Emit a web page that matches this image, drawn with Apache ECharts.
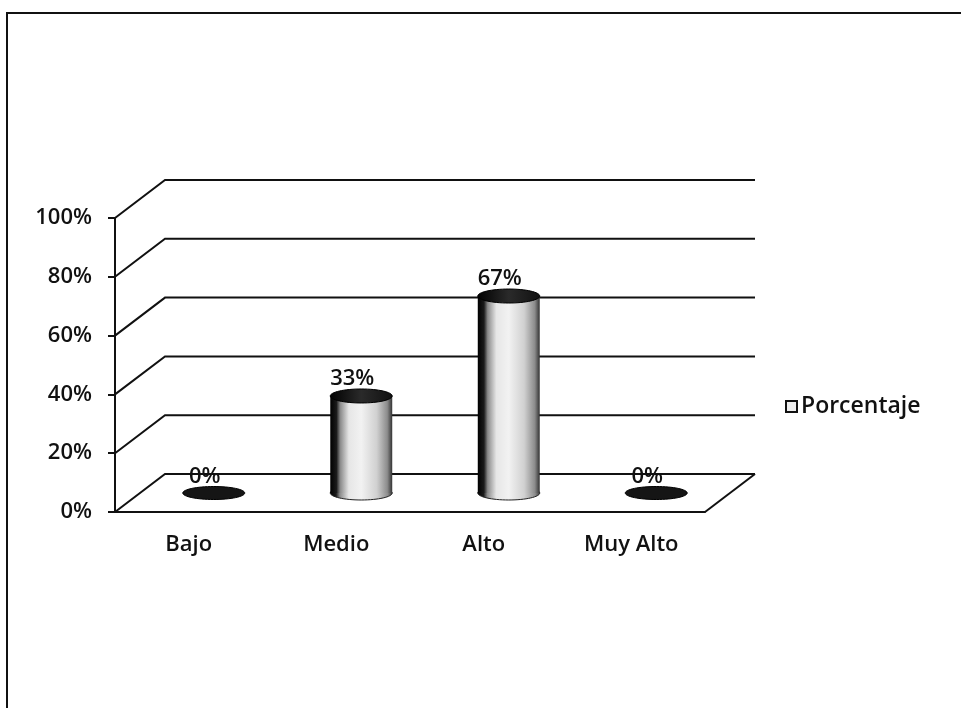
<!DOCTYPE html>
<html lang="es">
<head>
    <meta charset="UTF-8">
    <title>Porcentaje</title>
    <script src="https://cdn.jsdelivr.net/npm/echarts@6.0.0/dist/echarts.min.js"></script>
    <style>
        html, body { margin: 0; padding: 0; background: #fff; }
        #chart { width: 961px; height: 708px; }
    </style>
</head>
<body>
    <div id="chart"></div>
<script>
    var categories = ['Bajo', 'Medio', 'Alto', 'Muy Alto'];
    var porcentaje = [0, 33, 67, 0];
    var yTicks = [0, 20, 40, 60, 80, 100];

    // profundidad del efecto 3D (pared del fondo)
    var DX = 50, DY = 38;
    var FONT = '"Open Sans"';

    var myChart = echarts.init(document.getElementById('chart'));

    // pared del fondo: diagonal + linea horizontal por cada marca
    function renderWall(params, api) {
        var cs = params.coordSys;
        var y = api.coord([0, api.value(1)])[1];
        var children = [{
            type: 'polyline',
            shape: { points: [[cs.x, y], [cs.x + DX, y - DY], [cs.x + cs.width + DX, y - DY]] },
            style: { stroke: '#111', lineWidth: 2, fill: null }
        }];
        if (api.value(1) === 0) {
            // borde derecho del piso
            children.push({
                type: 'line',
                shape: { x1: cs.x + cs.width, y1: y, x2: cs.x + cs.width + DX, y2: y - DY },
                style: { stroke: '#111', lineWidth: 2 }
            });
        }
        return { type: 'group', children: children };
    }

    // cilindros a media profundidad
    function renderCyl(params, api) {
        var v = api.value(1);
        var top = api.coord([api.value(0), v]);
        var base = api.coord([api.value(0), 0]);
        var cx = top[0] + DX / 2;
        var ty = top[1] - DY / 2;
        var by = base[1] - DY / 2;
        var rx = api.size([1, 0])[0] * 0.21;
        var ry = v === 0 ? 6.5 : 7;
        var label = {
            type: 'text',
            style: {
                text: v + '%', x: cx - 9, y: ty - ry + 1,
                align: 'center', verticalAlign: 'bottom',
                font: '600 22px ' + FONT, fill: '#111'
            },
            z2: 10
        };
        if (v === 0) {
            return {
                type: 'group', children: [{
                    type: 'ellipse',
                    shape: { cx: cx, cy: by, rx: rx, ry: ry },
                    style: { fill: '#151515', stroke: '#000', lineWidth: 1 }
                }, label]
            };
        }
        var body = new echarts.graphic.LinearGradient(0, 0, 1, 0, [
            { offset: 0, color: '#000' },
            { offset: 0.1, color: '#1a1a1a' },
            { offset: 0.16, color: '#8a8a8a' },
            { offset: 0.3, color: '#e6e6e6' },
            { offset: 0.5, color: '#f2f2f2' },
            { offset: 0.75, color: '#d0d0d0' },
            { offset: 0.92, color: '#8c8c8c' },
            { offset: 1, color: '#333' }
        ]);
        var cap = new echarts.graphic.LinearGradient(0, 0, 1, 0, [
            { offset: 0, color: '#000' },
            { offset: 0.5, color: '#2a2a2a' },
            { offset: 1, color: '#111' }
        ]);
        return {
            type: 'group',
            children: [{
                type: 'ellipse',
                shape: { cx: cx, cy: by, rx: rx, ry: ry },
                style: { fill: body, stroke: '#222', lineWidth: 1 }
            }, {
                type: 'rect',
                shape: { x: cx - rx, y: ty, width: rx * 2, height: by - ty },
                style: { fill: body }
            }, {
                type: 'ellipse',
                shape: { cx: cx, cy: ty, rx: rx, ry: ry },
                style: { fill: cap, stroke: '#000', lineWidth: 1 }
            }, label]
        };
    }

    var option = {
        backgroundColor: '#fff',
        animation: false,
        textStyle: { fontFamily: FONT, color: '#111' },
        graphic: [{
            type: 'polyline',
            shape: { points: [[961, 13], [7, 13], [7, 708]] },
            style: { stroke: '#111', lineWidth: 2, fill: null }
        }],
        legend: {
            data: ['Porcentaje'],
            left: 780,
            top: 390,
            icon: 'rect',
            itemWidth: 11,
            itemHeight: 11,
            itemStyle: { color: '#eee', borderColor: '#111', borderWidth: 2 },
            textStyle: { fontFamily: FONT, fontSize: 23, fontWeight: 600, color: '#111', padding: [0, 0, 0, -1] }
        },
        grid: { left: 115, top: 218, width: 590, height: 294 },
        xAxis: {
            type: 'category',
            data: categories,
            axisLine: { lineStyle: { color: '#111', width: 2 } },
            axisTick: { show: false },
            axisLabel: { fontFamily: FONT, fontSize: 22, fontWeight: 600, color: '#111', margin: 22 }
        },
        yAxis: {
            type: 'value',
            min: 0,
            max: 100,
            interval: 20,
            axisLine: { show: true, lineStyle: { color: '#111', width: 2 } },
            axisTick: { show: true, length: 7, lineStyle: { color: '#111', width: 2 } },
            splitLine: { show: false },
            axisLabel: { fontFamily: FONT, fontSize: 22, fontWeight: 600, color: '#111', margin: 23, formatter: '{value}%' }
        },
        series: [{
            name: 'wall',
            type: 'custom',
            renderItem: renderWall,
            data: yTicks.map(function (t) { return [0, t]; }),
            z: 1,
            silent: true
        }, {
            name: 'Porcentaje',
            type: 'custom',
            renderItem: renderCyl,
            itemStyle: { color: '#eee' },
            data: porcentaje.map(function (v, i) { return [i, v]; }),
            z: 3
        }]
    };

    myChart.setOption(option);
</script>
</body>
</html>
